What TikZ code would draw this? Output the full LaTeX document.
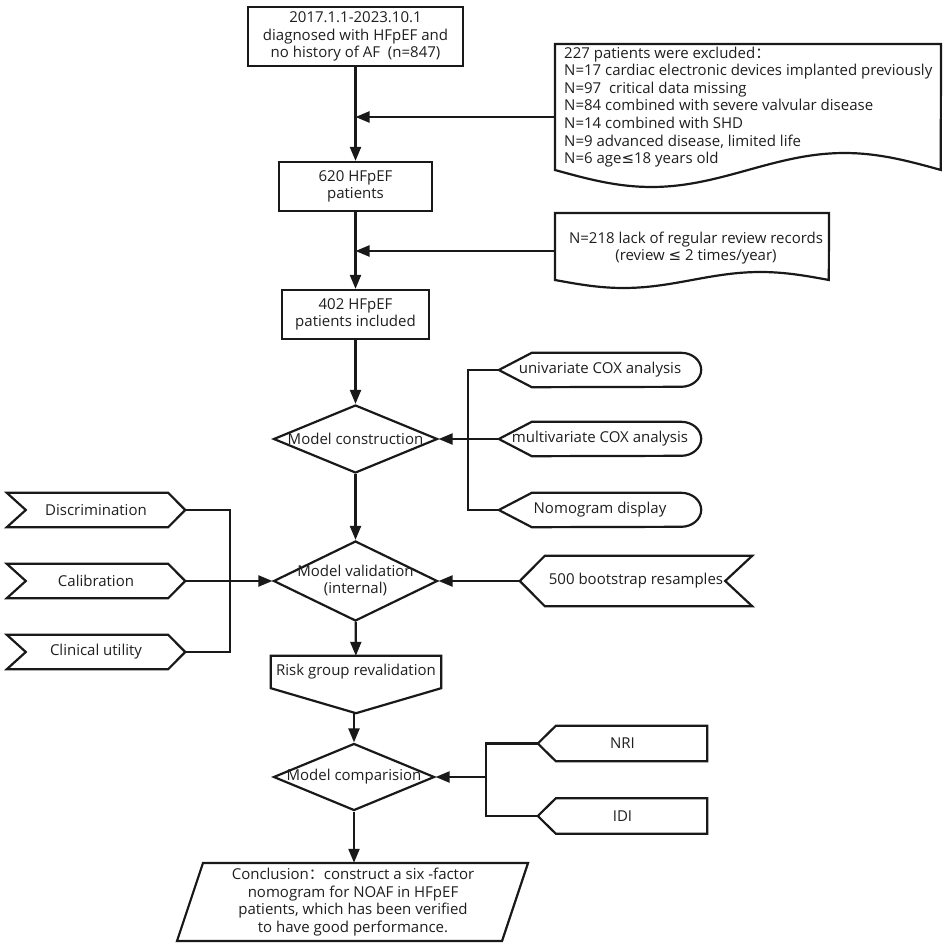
\documentclass[tikz,border=0pt]{standalone}
\usepackage{fontspec}
\setmainfont{Open Sans}
\newfontfamily\cjk{Noto Sans CJK SC}
\newfontfamily\symf{DejaVu Sans}
\usetikzlibrary{arrows.meta,shapes.geometric}
\tikzset{
  ln/.style={line width=2.2pt, draw=black!90, line join=miter},
  arr/.style={ln, -{Triangle[length=14pt,width=11pt]}},
  plainbox/.style={ln, rectangle, inner sep=0pt, align=center},
  hold/.style={rectangle, inner sep=0pt, draw=none, align=center},
  dia/.style={ln, diamond, inner sep=0pt},
  txt/.style={inner sep=0pt, align=center},
  every node/.append style={font=\fontsize{15}{17.6}\selectfont, text=black!88},
}
\newcommand\dispoutline[1]{\draw[ln] (#1.west) -- ([xshift=33pt]#1.north west) -- ([xshift=-20pt]#1.north east) arc[start angle=90,end angle=-90,x radius=20pt,y radius=17pt] -- ([xshift=33pt]#1.south west) -- cycle;}
\newcommand\chevoutline[1]{\draw[ln] (#1.north west) -- ([xshift=-17pt]#1.north east) -- (#1.east) -- ([xshift=-17pt]#1.south east) -- (#1.south west) -- ([xshift=19pt]#1.west) -- cycle;}
\newcommand\tagoutline[1]{\draw[ln] (#1.west) -- ([xshift=18pt]#1.north west) -- (#1.north east) -- (#1.south east) -- ([xshift=18pt]#1.south west) -- cycle;}
\begin{document}
\begin{tikzpicture}[x=1pt,y=-1pt]
\fill[white] (0,0) rectangle (945,944);
\useasboundingbox (0,0) rectangle (945,944);

% main column
\node[plainbox, minimum width=215, minimum height=59] (top) at (355.5,36.5)
  {2017.1.1-2023.10.1\\diagnosed with HFpEF and\\no history of AF\ \ (n=847)};
\node[plainbox, minimum width=153, minimum height=49] (p620) at (355.5,186.5) {620 HFpEF\\patients};
\node[plainbox, minimum width=147, minimum height=49] (p402) at (355.5,314.5) {402 HFpEF\\patients included};

% exclusion 1
\node[hold, minimum width=386, minimum height=146] (ex1) at (748,117) {};
\draw[ln] plot[domain=0:1, samples=60, variable=\t] ({555+386*\t},{170+17*sin(360*\t)}) -- (941,44) -- (555,44) -- cycle;
\node[txt, anchor=west, align=left] (ex1t) at (564,107)
  {227 patients were excluded{\cjk ：}\\
   N=17 cardiac electronic devices implanted previously\\
   N=97\ \ critical data missing\\
   N=84 combined with severe valvular disease\\
   N=14 combined with SHD\\
   N=9 advanced disease, limited life\\
   N=6 age{\symf ≤}18 years old};

% exclusion 2
\node[hold, minimum width=274, minimum height=76] (ex2) at (692,251) {};
\draw[ln] plot[domain=0:1, samples=60, variable=\t] ({555+274*\t},{280+8*sin(360*\t)}) -- (829,213) -- (555,213) -- cycle;
\node[txt] (ex2t) at (696,248) {N=218 lack of regular review records\\(review {\symf ≤} 2 times/year)};

\draw[arr] (top) -- (p620);
\draw[arr] (ex1.west) -- (ex1.west -| top.south);
\draw[arr] (p620) -- (p402);
\draw[arr] (ex2.west) -- (ex2.west -| p620.south);

% model construction
\node[dia, minimum width=164, minimum height=68] (mc) at (355.5,439) {};
\node[txt] (mct) at (mc) {Model construction};
\draw[arr] (p402) -- (mc);

\node[hold, minimum width=202, minimum height=34] (uni) at (600,370) {univariate COX analysis};
\node[hold, minimum width=202, minimum height=34] (multi) at (600,439) {multivariate COX analysis};
\node[hold, minimum width=202, minimum height=34] (nomo) at (600,510) {Nomogram display};
\dispoutline{uni}\dispoutline{multi}\dispoutline{nomo}
\coordinate (br1) at (468,0);
\draw[ln] (uni.west) -- (uni.west -| br1) -- (nomo.west -| br1) -- (nomo.west);
\draw[arr] (multi.west) -- (mc.east);

% model validation
\node[dia, minimum width=164, minimum height=80] (mv) at (355.5,581) {};
\node[txt] (mvt) at (355.5,580.5) {Model validation\\(internal)};
\draw[arr] (mc) -- (mv);

\node[hold, minimum width=178, minimum height=34] (disc) at (96,510) {Discrimination};
\node[hold, minimum width=178, minimum height=34] (cal) at (96,581) {Calibration};
\node[hold, minimum width=178, minimum height=34] (clin) at (96,652) {Clinical utility};
\chevoutline{disc}\chevoutline{cal}\chevoutline{clin}
\coordinate (br2) at (230,0);
\draw[ln] (disc.east) -- (disc.east -| br2) -- (clin.east -| br2) -- (clin.east);
\draw[arr] (cal.east) -- (mv.west);

\node[hold, minimum width=232, minimum height=50] (boot) at (636,581) {500 bootstrap resamples};
\draw[ln] (boot.west) -- ([xshift=25pt]boot.north west) -- (boot.north east) -- ([xshift=-27pt]boot.east) -- (boot.south east) -- ([xshift=25pt]boot.south west) -- cycle;
\draw[arr] (boot.west) -- (mv.east);

% risk group
\node[hold, minimum width=170, minimum height=57] (risk) at (356,684.5) {};
\draw[ln] (risk.north west) -- (risk.north east) -- ([yshift=25pt]risk.south east) -- (risk.south) -- ([yshift=25pt]risk.south west) -- cycle;
\node[txt] (riskt) at (356,672) {Risk group revalidation};
\draw[arr] (mv) -- (risk);

% model comparision
\node[dia, minimum width=161, minimum height=67] (comp) at (354,777) {};
\node[txt] (compt) at (comp) {Model comparision};
\draw[arr] (risk.south -| comp.north) -- (comp.north);

\node[hold, minimum width=169, minimum height=35] (nri) at (622.5,743.5) {NRI};
\node[hold, minimum width=169, minimum height=35] (idi) at (622.5,816) {IDI};
\tagoutline{nri}\tagoutline{idi}
\coordinate (br3) at (486,0);
\draw[ln] (nri.west) -- (nri.west -| br3) -- (idi.west -| br3) -- (idi.west);
\draw[arr] (comp.east -| br3) -- (comp.east);

% conclusion
\node[hold, minimum width=300, minimum height=78] (concl) at (353,902)
  {Conclusion{\cjk ：}construct a six -factor\\nomogram for NOAF in HFpEF\\patients, which has been verified\\to have good performance.};
\draw[ln] (203,863) -- (528,863) -- (502,941) -- (177,941) -- cycle;
\draw[arr] (comp.south) -- (comp.south |- concl.north);
\end{tikzpicture}
\end{document}
